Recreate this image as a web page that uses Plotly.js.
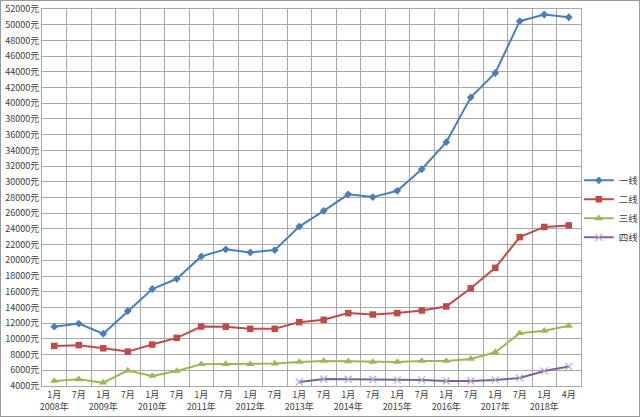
<!DOCTYPE html>
<html>
<head>
<meta charset="utf-8">
<script src="https://cdn.plot.ly/plotly-3.0.1.min.js"></script>
<style>
html,body{margin:0;padding:0;background:#fff;}
#wrap{position:relative;width:640px;height:418px;}
#chart{width:640px;height:418px;}
#frame{position:absolute;left:0;top:0;width:638px;height:415px;border:1px solid #9a9a9a;pointer-events:none;}
</style>
</head>
<body>
<div id="wrap"><div id="chart"></div><div id="frame"></div></div>
<script>
const categories = ["2008年1月","2008年7月","2009年1月","2009年7月","2010年1月","2010年7月",
  "2011年1月","2011年7月","2012年1月","2012年7月","2013年1月","2013年7月",
  "2014年1月","2014年7月","2015年1月","2015年7月","2016年1月","2016年7月",
  "2017年1月","2017年7月","2018年1月","2018年4月"];
const tickLabels = ["1月<br>2008年","7月","1月<br>2009年","7月","1月<br>2010年","7月",
  "1月<br>2011年","7月","1月<br>2012年","7月","1月<br>2013年","7月",
  "1月<br>2014年","7月","1月<br>2015年","7月","1月<br>2016年","7月",
  "1月<br>2017年","7月","1月<br>2018年","4月"];
const tier1 = [11550,11950,10650,13550,16350,17650,20500,21400,21000,21300,24300,26300,
  28400,28050,28850,31600,35050,40750,43850,50450,51300,50950];
const tier2 = [9100,9200,8800,8380,9280,10130,11570,11550,11280,11280,12130,12430,
  13280,13100,13280,13620,14130,16450,19050,22950,24250,24450];
const tier3 = [4640,4850,4430,5960,5280,5920,6770,6800,6770,6850,7070,7190,
  7150,7070,7070,7190,7190,7450,8300,10730,11030,11660];
const tier4 = [null,null,null,null,null,null,null,null,null,null,4510,4890,
  4860,4860,4770,4770,4640,4640,4770,5020,5920,6470];
const seriesNames = ["一线","二线","三线","四线"];
const yTickValues = [4000,6000,8000,10000,12000,14000,16000,18000,20000,22000,24000,26000,
  28000,30000,32000,34000,36000,38000,40000,42000,44000,46000,48000,50000,52000];
const yTickLabels = ["4000元","6000元","8000元","10000元","12000元","14000元","16000元","18000元",
  "20000元","22000元","24000元","26000元","28000元","30000元","32000元","34000元","36000元",
  "38000元","40000元","42000元","44000元","46000元","48000元","50000元","52000元"];

const font = "'Noto Sans CJK SC', 'Noto Sans', sans-serif";
const traces = [
  {x: categories, y: tier1, name: seriesNames[0], type: "scatter", mode: "lines+markers",
   line: {color: "#4a7ebb", width: 2},
   marker: {symbol: "diamond", size: 6, color: "#4a7ebb"}},
  {x: categories, y: tier2, name: seriesNames[1], type: "scatter", mode: "lines+markers",
   line: {color: "#be4b48", width: 2},
   marker: {symbol: "square", size: 6.5, color: "#be4b48"}},
  {x: categories, y: tier3, name: seriesNames[2], type: "scatter", mode: "lines+markers",
   line: {color: "#98b954", width: 2},
   marker: {symbol: "triangle-up", size: 7.5, color: "#98b954"}},
  {x: categories, y: tier4, name: seriesNames[3], type: "scatter", mode: "lines+markers",
   line: {color: "#7d60a0", width: 2},
   marker: {symbol: "x-thin", size: 7, color: "#b4a6cc", line: {color: "#b4a6cc", width: 1.2}}}
];

const layout = {
  width: 640, height: 418,
  margin: {l: 42, r: 59, t: 9, b: 32, autoexpand: false},
  paper_bgcolor: "#ffffff", plot_bgcolor: "#ffffff",
  font: {family: font, size: 9, color: "#404040"},
  showlegend: true,
  legend: {x: 0.996, xanchor: "left", y: 0.47, yanchor: "middle",
    font: {family: font, size: 9.5, color: "#404040"},
    itemwidth: 30, tracegroupgap: 0, bgcolor: "rgba(0,0,0,0)"},
  xaxis: {type: "category", categoryorder: "array", categoryarray: categories,
    tickmode: "array", tickvals: categories, ticktext: tickLabels,
    tickson: "boundaries", ticks: "", showgrid: true, gridcolor: "#a8a8a8", gridwidth: 1,
    showline: true, mirror: true, linecolor: "#a8a8a8", linewidth: 1,
    range: [-0.5, 21.5], zeroline: false, tickangle: 0, automargin: false,
    tickfont: {family: font, size: 9, color: "#404040"}},
  yaxis: {range: [4000, 52000], tickmode: "array", tickvals: yTickValues, ticktext: yTickLabels,
    showgrid: true, gridcolor: "#a8a8a8", gridwidth: 1, zeroline: false,
    showline: true, mirror: true, linecolor: "#a8a8a8", linewidth: 1,
    ticks: "", ticklen: 0, automargin: false,
    tickfont: {family: font, size: 9, color: "#404040"}}
};
Plotly.newPlot("chart", traces, layout, {displayModeBar: false, staticPlot: true});
</script>
</body>
</html>
